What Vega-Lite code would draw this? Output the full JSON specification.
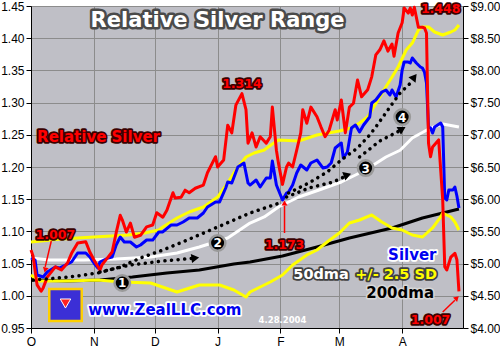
{
  "$schema": "https://vega.github.io/schema/vega-lite/v6.json",
  "width": 432,
  "height": 322,
  "autosize": {"type": "none"},
  "padding": {"left": 31, "top": 6, "right": 37, "bottom": 22},
  "background": "#ffffff",
  "config": {
    "view": {"fill": "#bfbfc6", "stroke": null},
    "axis": {"labelFont": "Liberation Sans", "labelFontSize": 12, "labelColor": "#000000", "domainColor": "#000000", "tickColor": "#000000", "tickSize": 5, "gridColor": "#8c8c8c", "gridWidth": 1, "domainWidth": 1, "labelOverlap": false}
  },
  "datasets": {
    "red": [
      {"date":"2003/10/01","rel":1.071},{"date":"2003/10/02","rel":1.062},{"date":"2003/10/04","rel":1.017},{"date":"2003/10/06","rel":1.007},{"date":"2003/10/07","rel":1.012},{"date":"2003/10/09","rel":1.029},{"date":"2003/10/13","rel":1.045},{"date":"2003/10/16","rel":1.040},{"date":"2003/10/19","rel":1.051},{"date":"2003/10/21","rel":1.066},{"date":"2003/10/24","rel":1.082},{"date":"2003/10/28","rel":1.084},{"date":"2003/10/30","rel":1.068},
      {"date":"2003/11/01","rel":1.056},{"date":"2003/11/04","rel":1.040},{"date":"2003/11/05","rel":1.048},{"date":"2003/11/08","rel":1.060},{"date":"2003/11/10","rel":1.068},{"date":"2003/11/12","rel":1.098},{"date":"2003/11/14","rel":1.125},{"date":"2003/11/15","rel":1.118},{"date":"2003/11/17","rel":1.099},{"date":"2003/11/19","rel":1.113},{"date":"2003/11/21","rel":1.091},{"date":"2003/11/24","rel":1.094},{"date":"2003/11/27","rel":1.107},{"date":"2003/11/30","rel":1.110},
      {"date":"2003/12/02","rel":1.129},{"date":"2003/12/05","rel":1.122},{"date":"2003/12/07","rel":1.133},{"date":"2003/12/10","rel":1.160},{"date":"2003/12/11","rel":1.152},{"date":"2003/12/14","rel":1.153},{"date":"2003/12/16","rel":1.164},{"date":"2003/12/18","rel":1.160},{"date":"2003/12/21","rel":1.167},{"date":"2003/12/25","rel":1.172},{"date":"2003/12/27","rel":1.191},{"date":"2003/12/31","rel":1.216},
      {"date":"2004/01/01","rel":1.200},{"date":"2004/01/04","rel":1.211},{"date":"2004/01/06","rel":1.265},{"date":"2004/01/08","rel":1.253},{"date":"2004/01/10","rel":1.296},{"date":"2004/01/13","rel":1.314},{"date":"2004/01/15","rel":1.289},{"date":"2004/01/16","rel":1.237},{"date":"2004/01/18","rel":1.253},{"date":"2004/01/20","rel":1.231},{"date":"2004/01/22","rel":1.247},{"date":"2004/01/25","rel":1.237},{"date":"2004/01/27","rel":1.247},{"date":"2004/01/28","rel":1.293},{"date":"2004/01/30","rel":1.226},{"date":"2004/01/31","rel":1.206},
      {"date":"2004/02/02","rel":1.173},{"date":"2004/02/04","rel":1.200},{"date":"2004/02/05","rel":1.206},{"date":"2004/02/07","rel":1.200},{"date":"2004/02/09","rel":1.226},{"date":"2004/02/11","rel":1.253},{"date":"2004/02/12","rel":1.289},{"date":"2004/02/14","rel":1.268},{"date":"2004/02/16","rel":1.293},{"date":"2004/02/19","rel":1.278},{"date":"2004/02/21","rel":1.262},{"date":"2004/02/23","rel":1.247},{"date":"2004/02/25","rel":1.257},{"date":"2004/02/28","rel":1.289},{"date":"2004/02/29","rel":1.273},
      {"date":"2004/03/02","rel":1.304},{"date":"2004/03/04","rel":1.253},{"date":"2004/03/06","rel":1.293},{"date":"2004/03/08","rel":1.299},{"date":"2004/03/10","rel":1.335},{"date":"2004/03/12","rel":1.309},{"date":"2004/03/15","rel":1.320},{"date":"2004/03/17","rel":1.340},{"date":"2004/03/19","rel":1.374},{"date":"2004/03/21","rel":1.382},{"date":"2004/03/23","rel":1.396},{"date":"2004/03/25","rel":1.380},{"date":"2004/03/27","rel":1.391},{"date":"2004/03/28","rel":1.372},{"date":"2004/03/30","rel":1.408},
      {"date":"2004/04/01","rel":1.424},{"date":"2004/04/02","rel":1.447},{"date":"2004/04/04","rel":1.439},{"date":"2004/04/05","rel":1.447},{"date":"2004/04/06","rel":1.436},{"date":"2004/04/07","rel":1.448},{"date":"2004/04/09","rel":1.417},{"date":"2004/04/11","rel":1.417},{"date":"2004/04/12","rel":1.416},{"date":"2004/04/13","rel":1.408},{"date":"2004/04/14","rel":1.237},{"date":"2004/04/15","rel":1.216},{"date":"2004/04/16","rel":1.231},{"date":"2004/04/19","rel":1.242},{"date":"2004/04/21","rel":1.149},{"date":"2004/04/22","rel":1.045},{"date":"2004/04/23","rel":1.040},{"date":"2004/04/25","rel":1.060},{"date":"2004/04/27","rel":1.066},{"date":"2004/04/28","rel":1.056},{"date":"2004/04/29","rel":1.007}
    ],
    "silver": [
      {"date":"2003/10/01","price":5.087},{"date":"2003/10/03","price":5.056},{"date":"2003/10/04","price":4.823},{"date":"2003/10/07","price":4.792},{"date":"2003/10/09","price":4.870},{"date":"2003/10/13","price":4.947},{"date":"2003/10/15","price":4.932},{"date":"2003/10/18","price":4.978},{"date":"2003/10/21","price":5.025},{"date":"2003/10/24","price":5.165},{"date":"2003/10/28","price":5.165},{"date":"2003/10/30","price":5.102},
      {"date":"2003/11/01","price":5.009},{"date":"2003/11/03","price":4.932},{"date":"2003/11/04","price":5.025},{"date":"2003/11/08","price":5.087},{"date":"2003/11/10","price":5.102},{"date":"2003/11/12","price":5.289},{"date":"2003/11/14","price":5.413},{"date":"2003/11/16","price":5.335},{"date":"2003/11/19","price":5.335},{"date":"2003/11/22","price":5.258},{"date":"2003/11/24","price":5.289},{"date":"2003/11/27","price":5.366},{"date":"2003/11/30","price":5.366},
      {"date":"2003/12/03","price":5.491},{"date":"2003/12/05","price":5.491},{"date":"2003/12/09","price":5.599},{"date":"2003/12/12","price":5.599},{"date":"2003/12/15","price":5.646},{"date":"2003/12/18","price":5.708},{"date":"2003/12/22","price":5.708},{"date":"2003/12/25","price":5.786},{"date":"2003/12/27","price":5.879},{"date":"2003/12/31","price":5.957},
      {"date":"2004/01/02","price":5.957},{"date":"2004/01/05","price":6.174},{"date":"2004/01/06","price":6.267},{"date":"2004/01/08","price":6.252},{"date":"2004/01/11","price":6.500},{"date":"2004/01/14","price":6.562},{"date":"2004/01/16","price":6.252},{"date":"2004/01/17","price":6.220},{"date":"2004/01/20","price":6.298},{"date":"2004/01/22","price":6.189},{"date":"2004/01/25","price":6.329},{"date":"2004/01/27","price":6.330},{"date":"2004/01/28","price":6.593},{"date":"2004/01/30","price":6.220},{"date":"2004/01/31","price":6.143},
      {"date":"2004/02/02","price":5.988},{"date":"2004/02/04","price":6.096},{"date":"2004/02/05","price":6.112},{"date":"2004/02/07","price":6.220},{"date":"2004/02/09","price":6.407},{"date":"2004/02/11","price":6.531},{"date":"2004/02/14","price":6.453},{"date":"2004/02/16","price":6.562},{"date":"2004/02/19","price":6.609},{"date":"2004/02/22","price":6.484},{"date":"2004/02/24","price":6.500},{"date":"2004/02/26","price":6.562},{"date":"2004/02/28","price":6.795},
      {"date":"2004/03/02","price":6.873},{"date":"2004/03/03","price":6.640},{"date":"2004/03/05","price":6.733},{"date":"2004/03/07","price":7.106},{"date":"2004/03/09","price":7.152},{"date":"2004/03/11","price":7.043},{"date":"2004/03/13","price":7.152},{"date":"2004/03/16","price":7.276},{"date":"2004/03/17","price":7.494},{"date":"2004/03/19","price":7.540},{"date":"2004/03/22","price":7.665},{"date":"2004/03/24","price":7.696},{"date":"2004/03/26","price":7.618},{"date":"2004/03/27","price":7.696},{"date":"2004/03/29","price":7.587},{"date":"2004/03/31","price":7.773},
      {"date":"2004/04/01","price":8.006},{"date":"2004/04/02","price":8.130},{"date":"2004/04/04","price":8.130},{"date":"2004/04/05","price":8.115},{"date":"2004/04/06","price":8.193},{"date":"2004/04/08","price":8.115},{"date":"2004/04/10","price":8.053},{"date":"2004/04/11","price":8.037},{"date":"2004/04/12","price":7.975},{"date":"2004/04/13","price":7.804},{"date":"2004/04/14","price":7.121},{"date":"2004/04/15","price":7.106},{"date":"2004/04/16","price":7.028},{"date":"2004/04/17","price":7.121},{"date":"2004/04/20","price":7.183},{"date":"2004/04/21","price":7.121},{"date":"2004/04/22","price":6.019},{"date":"2004/04/23","price":5.988},{"date":"2004/04/24","price":6.143},{"date":"2004/04/26","price":6.143},{"date":"2004/04/27","price":6.189},{"date":"2004/04/28","price":6.050},{"date":"2004/04/29","price":5.863}
    ],
    "upper": [
      {"date":"2003/10/01","price":5.335},{"date":"2003/10/16","price":5.382},{"date":"2003/11/01","price":5.413},{"date":"2003/11/18","price":5.444},{"date":"2003/11/26","price":5.475},{"date":"2003/12/03","price":5.522},{"date":"2003/12/05","price":5.568},{"date":"2003/12/12","price":5.708},{"date":"2003/12/18","price":5.801},{"date":"2003/12/25","price":5.879},
      {"date":"2004/01/01","price":6.034},{"date":"2004/01/06","price":6.252},{"date":"2004/01/09","price":6.407},{"date":"2004/01/12","price":6.531},{"date":"2004/01/15","price":6.655},{"date":"2004/01/19","price":6.717},{"date":"2004/01/24","price":6.764},{"date":"2004/01/28","price":6.857},{"date":"2004/01/31","price":6.919},{"date":"2004/02/10","price":6.904},{"date":"2004/02/19","price":6.997},
      {"date":"2004/03/01","price":7.059},{"date":"2004/03/07","price":7.106},{"date":"2004/03/11","price":7.183},{"date":"2004/03/15","price":7.276},{"date":"2004/03/18","price":7.432},{"date":"2004/03/23","price":7.696},{"date":"2004/03/27","price":7.898},{"date":"2004/03/30","price":8.053},
      {"date":"2004/04/03","price":8.317},{"date":"2004/04/06","price":8.425},{"date":"2004/04/09","price":8.627},{"date":"2004/04/11","price":8.674},{"date":"2004/04/14","price":8.674},{"date":"2004/04/17","price":8.596},{"date":"2004/04/21","price":8.550},{"date":"2004/04/25","price":8.596},{"date":"2004/04/27","price":8.627},{"date":"2004/04/29","price":8.705}
    ],
    "lower": [
      {"date":"2003/10/01","price":4.823},{"date":"2003/10/05","price":4.730},{"date":"2003/10/19","price":4.730},{"date":"2003/11/03","price":4.745},{"date":"2003/11/15","price":4.714},{"date":"2003/11/29","price":4.699},{"date":"2003/12/12","price":4.559},{"date":"2003/12/23","price":4.668},
      {"date":"2004/01/02","price":4.668},{"date":"2004/01/09","price":4.590},{"date":"2004/01/15","price":4.481},{"date":"2004/01/17","price":4.559},{"date":"2004/01/27","price":4.714},{"date":"2004/02/02","price":4.823},{"date":"2004/02/07","price":4.978},{"date":"2004/02/14","price":5.134},{"date":"2004/02/19","price":5.211},{"date":"2004/02/24","price":5.335},
      {"date":"2004/03/01","price":5.475},{"date":"2004/03/06","price":5.630},{"date":"2004/03/11","price":5.677},{"date":"2004/03/17","price":5.755},{"date":"2004/03/22","price":5.646},{"date":"2004/03/27","price":5.553},
      {"date":"2004/04/01","price":5.522},{"date":"2004/04/06","price":5.444},{"date":"2004/04/11","price":5.413},{"date":"2004/04/16","price":5.553},{"date":"2004/04/20","price":5.724},{"date":"2004/04/21","price":5.786},{"date":"2004/04/25","price":5.724},{"date":"2004/04/27","price":5.646},{"date":"2004/04/29","price":5.522}
    ],
    "dma50": [
      {"date":"2003/10/01","price":5.087},{"date":"2003/10/10","price":5.056},{"date":"2003/10/27","price":5.056},{"date":"2003/11/12","price":5.071},{"date":"2003/11/29","price":5.102},{"date":"2003/12/12","price":5.165},{"date":"2003/12/23","price":5.258},
      {"date":"2004/01/06","price":5.398},{"date":"2004/01/17","price":5.630},{"date":"2004/01/24","price":5.724},{"date":"2004/01/31","price":5.879},{"date":"2004/02/10","price":6.034},{"date":"2004/02/20","price":6.143},
      {"date":"2004/03/02","price":6.267},{"date":"2004/03/14","price":6.453},{"date":"2004/03/24","price":6.655},{"date":"2004/03/31","price":6.760},{"date":"2004/04/06","price":6.950},{"date":"2004/04/15","price":7.106},{"date":"2004/04/21","price":7.168},{"date":"2004/04/29","price":7.121}
    ],
    "dma200": [
      {"date":"2003/10/01","price":4.745},{"date":"2003/10/19","price":4.730},{"date":"2003/11/04","price":4.745},{"date":"2003/11/20","price":4.792},{"date":"2003/12/07","price":4.854},{"date":"2003/12/23","price":4.901},
      {"date":"2004/01/09","price":4.994},{"date":"2004/01/17","price":5.025},{"date":"2004/02/02","price":5.118},{"date":"2004/02/19","price":5.258},{"date":"2004/03/06","price":5.398},{"date":"2004/03/27","price":5.553},{"date":"2004/04/11","price":5.708},{"date":"2004/04/21","price":5.786},{"date":"2004/04/29","price":5.848}
    ],
    "dots": [
      {"id":"A","date":"2003/10/02","rel":1.0245},{"id":"A","date":"2003/10/20","rel":1.0292},{"id":"A","date":"2003/11/03","rel":1.0354},{"id":"A","date":"2003/11/14","rel":1.0447},{"id":"A","date":"2003/11/24","rel":1.0587},{"id":"A","date":"2003/12/05","rel":1.0711},{"id":"A","date":"2003/12/17","rel":1.0866},{"id":"A","date":"2004/01/01","rel":1.1068},{"id":"A","date":"2004/01/17","rel":1.1286},{"id":"A","date":"2004/02/02","rel":1.1457},
      {"id":"B","date":"2003/11/04","rel":1.037},{"id":"B","date":"2003/11/19","rel":1.0478},{"id":"B","date":"2003/12/05","rel":1.054},{"id":"B","date":"2003/12/19","rel":1.058},
      {"id":"C","date":"2004/02/04","rel":1.1534},{"id":"C","date":"2004/02/15","rel":1.1674},{"id":"C","date":"2004/02/27","rel":1.1767},{"id":"C","date":"2004/03/03","rel":1.184},
      {"id":"D","date":"2004/02/05","rel":1.1596},{"id":"D","date":"2004/02/15","rel":1.1752},{"id":"D","date":"2004/02/24","rel":1.1922},{"id":"D","date":"2004/03/02","rel":1.2109},{"id":"D","date":"2004/03/10","rel":1.2295},{"id":"D","date":"2004/03/16","rel":1.2497},{"id":"D","date":"2004/03/19","rel":1.2621},{"id":"D","date":"2004/03/26","rel":1.2932},{"id":"D","date":"2004/03/31","rel":1.3149},{"id":"D","date":"2004/04/05","rel":1.330},
      {"id":"E","date":"2004/03/11","rel":1.2155},{"id":"E","date":"2004/03/21","rel":1.2404},{"id":"E","date":"2004/03/30","rel":1.255}
    ],
    "heads": [
      {"id":"B","date":"2003/12/21","rel":1.0587},
      {"id":"C","date":"2004/03/05","rel":1.1876},
      {"id":"D","date":"2004/04/07","rel":1.3398},
      {"id":"E","date":"2004/04/01","rel":1.259},
      {"id":"L","date":"2003/10/08","rel":1.0401},
      {"id":"M","date":"2004/02/03","rel":1.1441},
      {"id":"R","date":"2004/04/28","rel":0.9966}
    ],
    "arrows": [
      {"id":"L","date":"2003/10/11","rel":1.0851},{"id":"L","date":"2003/10/08","rel":1.045},
      {"id":"M","date":"2004/02/03","rel":1.0975},{"id":"M","date":"2004/02/03","rel":1.140},
      {"id":"R","date":"2004/04/21","rel":0.9748},{"id":"R","date":"2004/04/27","rel":0.993}
    ],
    "circles": [
      {"n":"1","date":"2003/11/15","rel":1.0199},
      {"n":"2","date":"2004/01/01","rel":1.082},
      {"n":"3","date":"2004/03/14","rel":1.1984},
      {"n":"4","date":"2004/04/01","rel":1.2776}
    ],
    "logo": [
      {"date":"2003/10/10","date2":"2003/10/26","rel":1.0106,"rel2":0.9609}
    ],
    "shell": [
      {"date":"2003/10/18","rel":0.988}
    ],
    "labels": [
      {"kind":"title","date":"2004/01/01","rel":1.4174,"text":"Relative Silver Range"},
      {"kind":"redbig","date":"2003/10/04","rel":1.2388,"text":"Relative Silver"},
      {"kind":"rednum","date":"2004/01/13","rel":1.3227,"text":"1.314"},
      {"kind":"rednum","date":"2004/04/20","rel":1.4391,"text":"1.448"},
      {"kind":"rednum","date":"2003/10/13","rel":1.0882,"text":"1.007"},
      {"kind":"rednum","date":"2004/02/03","rel":1.0727,"text":"1.173"},
      {"kind":"rednum","date":"2004/04/15","rel":0.9562,"text":"1.007"},
      {"kind":"silver","date":"2004/04/06","rel":1.0556,"text":"Silver"},
      {"kind":"dma50","date":"2004/02/21","rel":1.0261,"text":"50dma"},
      {"kind":"sd","date":"2004/03/29","rel":1.0261,"text":"+/- 2.5 SD"},
      {"kind":"dma200","date":"2004/03/31","rel":0.9966,"text":"200dma"},
      {"kind":"stamp","date":"2004/02/02","rel":0.9578,"text":"4.28.2004"},
      {"kind":"url","date":"2003/12/06","rel":0.9702,"text":"www.ZealLLC.com"}
    ]
  },
  "layer": [
    {
      "layer": [
        {
          "mark": {"type": "rule", "color": "#a4a4a8", "strokeWidth": 3},
          "encoding": {"y": {"datum": 4.5, "type": "quantitative", "scale": {"domain": [4, 9]}, "title": null}}
        },
        {
          "data": {"name": "dma200"},
          "mark": {"type": "line", "color": "#000000", "strokeWidth": 3, "strokeJoin": "round"},
          "encoding": {
            "x": {"field": "date", "type": "temporal", "title": null, "scale": {"domain": [{"year": 2003, "month": 10, "date": 1}, {"year": 2004, "month": 5, "date": 1}], "nice": false},
              "axis": {"values": [{"year": 2003, "month": 10, "date": 1}, {"year": 2003, "month": 11, "date": 1}, {"year": 2003, "month": 12, "date": 1}, {"year": 2004, "month": 1, "date": 1}, {"year": 2004, "month": 2, "date": 1}, {"year": 2004, "month": 3, "date": 1}, {"year": 2004, "month": 4, "date": 1}],
                "tickCount": 20, "labelExpr": "substring(timeFormat(datum.value, '%b'), 0, 1)", "grid": true, "labelFlush": false, "labelOverlap": false, "labelPadding": 3, "title": null}},
            "y": {"field": "price", "type": "quantitative", "title": null, "scale": {"domain": [4, 9]},
              "axis": {"orient": "right", "values": [4, 4.5, 5, 5.5, 6, 6.5, 7, 7.5, 8, 8.5, 9], "tickCount": 20, "format": "$.2f", "grid": false, "labelOverlap": false, "labelPadding": 2, "title": null}}
          }
        },
        {
          "data": {"name": "dma50"},
          "mark": {"type": "line", "color": "#ffffff", "strokeWidth": 3, "strokeJoin": "round"},
          "encoding": {"x": {"field": "date", "type": "temporal", "title": null}, "y": {"field": "price", "type": "quantitative", "title": null, "scale": {"domain": [4, 9]}}}
        },
        {
          "data": {"name": "lower"},
          "mark": {"type": "line", "color": "#ffff00", "strokeWidth": 3, "strokeJoin": "round"},
          "encoding": {"x": {"field": "date", "type": "temporal", "title": null}, "y": {"field": "price", "type": "quantitative", "title": null, "scale": {"domain": [4, 9]}}}
        },
        {
          "data": {"name": "upper"},
          "mark": {"type": "line", "color": "#ffff00", "strokeWidth": 3, "strokeJoin": "round"},
          "encoding": {"x": {"field": "date", "type": "temporal", "title": null}, "y": {"field": "price", "type": "quantitative", "title": null, "scale": {"domain": [4, 9]}}}
        },
        {
          "data": {"name": "silver"},
          "mark": {"type": "line", "color": "#0000ff", "strokeWidth": 3, "strokeJoin": "round"},
          "encoding": {"x": {"field": "date", "type": "temporal", "title": null}, "y": {"field": "price", "type": "quantitative", "title": null, "scale": {"domain": [4, 9]}}}
        }
      ]
    },
    {
      "layer": [
        {
          "data": {"name": "red"},
          "mark": {"type": "line", "color": "#ff0000", "strokeWidth": 3, "strokeJoin": "round"},
          "encoding": {
            "x": {"field": "date", "type": "temporal", "title": null},
            "y": {"field": "rel", "type": "quantitative", "title": null, "scale": {"domain": [0.95, 1.45]},
              "axis": {"orient": "left", "values": [0.95, 1.0, 1.05, 1.1, 1.15, 1.2, 1.25, 1.3, 1.35, 1.4, 1.45], "tickCount": 20, "format": ".2f", "grid": true, "labelOverlap": false, "labelPadding": 2, "title": null}}
          }
        },
        {
          "data": {"name": "dots"},
          "mark": {"type": "line", "color": "#000000", "strokeWidth": 3.5, "strokeCap": "round", "strokeDash": [0.1, 6.5]},
          "encoding": {"x": {"field": "date", "type": "temporal", "title": null}, "y": {"field": "rel", "type": "quantitative", "title": null, "scale": {"domain": [0.95, 1.45]}}, "detail": {"field": "id"}}
        },
        {
          "data": {"name": "heads"},
          "transform": [{"filter": "datum.id == 'B'"}],
          "mark": {"type": "point", "shape": "triangle-right", "filled": true, "color": "#000000", "opacity": 1, "size": 80, "angle": -8},
          "encoding": {"x": {"field": "date", "type": "temporal", "title": null}, "y": {"field": "rel", "type": "quantitative", "title": null, "scale": {"domain": [0.95, 1.45]}}}
        },
        {
          "data": {"name": "heads"},
          "transform": [{"filter": "datum.id == 'C'"}],
          "mark": {"type": "point", "shape": "triangle-right", "filled": true, "color": "#000000", "opacity": 1, "size": 80, "angle": -20},
          "encoding": {"x": {"field": "date", "type": "temporal", "title": null}, "y": {"field": "rel", "type": "quantitative", "title": null, "scale": {"domain": [0.95, 1.45]}}}
        },
        {
          "data": {"name": "heads"},
          "transform": [{"filter": "datum.id == 'D'"}],
          "mark": {"type": "point", "shape": "triangle-right", "filled": true, "color": "#000000", "opacity": 1, "size": 80, "angle": -53},
          "encoding": {"x": {"field": "date", "type": "temporal", "title": null}, "y": {"field": "rel", "type": "quantitative", "title": null, "scale": {"domain": [0.95, 1.45]}}}
        },
        {
          "data": {"name": "heads"},
          "transform": [{"filter": "datum.id == 'E'"}],
          "mark": {"type": "point", "shape": "triangle-right", "filled": true, "color": "#000000", "opacity": 1, "size": 80, "angle": -30},
          "encoding": {"x": {"field": "date", "type": "temporal", "title": null}, "y": {"field": "rel", "type": "quantitative", "title": null, "scale": {"domain": [0.95, 1.45]}}}
        },
        {
          "data": {"name": "circles"},
          "mark": {"type": "point", "shape": "circle", "filled": true, "color": "#000000", "opacity": 1, "size": 240, "stroke": "#9a9a9a", "strokeWidth": 2.5},
          "encoding": {"x": {"field": "date", "type": "temporal", "title": null}, "y": {"field": "rel", "type": "quantitative", "title": null, "scale": {"domain": [0.95, 1.45]}}}
        },
        {
          "data": {"name": "circles"},
          "mark": {"type": "text", "color": "#ffffff", "font": "DejaVu Sans", "fontWeight": "bold", "fontSize": 12, "align": "center", "baseline": "middle", "dy": 0.5},
          "encoding": {"x": {"field": "date", "type": "temporal", "title": null}, "y": {"field": "rel", "type": "quantitative", "title": null, "scale": {"domain": [0.95, 1.45]}}, "text": {"field": "n"}}
        },
        {
          "data": {"name": "arrows"},
          "mark": {"type": "line", "color": "#ff0000", "strokeWidth": 1.5},
          "encoding": {"x": {"field": "date", "type": "temporal", "title": null}, "y": {"field": "rel", "type": "quantitative", "title": null, "scale": {"domain": [0.95, 1.45]}}, "detail": {"field": "id"}}
        },
        {
          "data": {"name": "heads"},
          "transform": [{"filter": "datum.id == 'L'"}],
          "mark": {"type": "point", "shape": "triangle-right", "filled": true, "color": "#ff0000", "opacity": 1, "size": 35, "angle": 104},
          "encoding": {"x": {"field": "date", "type": "temporal", "title": null}, "y": {"field": "rel", "type": "quantitative", "title": null, "scale": {"domain": [0.95, 1.45]}}}
        },
        {
          "data": {"name": "heads"},
          "transform": [{"filter": "datum.id == 'M'"}],
          "mark": {"type": "point", "shape": "triangle-right", "filled": true, "color": "#ff0000", "opacity": 1, "size": 35, "angle": -90},
          "encoding": {"x": {"field": "date", "type": "temporal", "title": null}, "y": {"field": "rel", "type": "quantitative", "title": null, "scale": {"domain": [0.95, 1.45]}}}
        },
        {
          "data": {"name": "heads"},
          "transform": [{"filter": "datum.id == 'R'"}],
          "mark": {"type": "point", "shape": "triangle-right", "filled": true, "color": "#ff0000", "opacity": 1, "size": 35, "angle": -43},
          "encoding": {"x": {"field": "date", "type": "temporal", "title": null}, "y": {"field": "rel", "type": "quantitative", "title": null, "scale": {"domain": [0.95, 1.45]}}}
        },
        {
          "data": {"name": "logo"},
          "mark": {"type": "rect", "fill": "#3b2fd6", "stroke": "#ffd000", "strokeWidth": 2.5},
          "encoding": {"x": {"field": "date", "type": "temporal", "title": null}, "x2": {"field": "date2"}, "y": {"field": "rel", "type": "quantitative", "title": null, "scale": {"domain": [0.95, 1.45]}}, "y2": {"field": "rel2"}}
        },
        {
          "data": {"name": "shell"},
          "mark": {"type": "point", "shape": "triangle-down", "filled": true, "color": "#ff2020", "opacity": 1, "size": 110, "stroke": "#ffffff", "strokeWidth": 1},
          "encoding": {"x": {"field": "date", "type": "temporal", "title": null}, "y": {"field": "rel", "type": "quantitative", "title": null, "scale": {"domain": [0.95, 1.45]}}}
        },
        {
          "data": {"name": "labels"},
          "transform": [{"filter": "datum.kind == 'title'"}],
          "mark": {"type": "text", "font": "DejaVu Sans", "fontWeight": "bold", "fontSize": 21, "align": "center", "baseline": "alphabetic", "fill": "#4a4a4a", "stroke": "#4a4a4a", "strokeWidth": 5, "strokeJoin": "round"},
          "encoding": {"x": {"field": "date", "type": "temporal", "title": null}, "y": {"field": "rel", "type": "quantitative", "title": null, "scale": {"domain": [0.95, 1.45]}}, "text": {"field": "text"}}
        },
        {
          "data": {"name": "labels"},
          "transform": [{"filter": "datum.kind == 'title'"}],
          "mark": {"type": "text", "font": "DejaVu Sans", "fontWeight": "bold", "fontSize": 21, "align": "center", "baseline": "alphabetic", "fill": "#ffffff"},
          "encoding": {"x": {"field": "date", "type": "temporal", "title": null}, "y": {"field": "rel", "type": "quantitative", "title": null, "scale": {"domain": [0.95, 1.45]}}, "text": {"field": "text"}}
        },
        {
          "data": {"name": "labels"},
          "transform": [{"filter": "datum.kind == 'redbig'"}],
          "mark": {"type": "text", "font": "DejaVu Sans", "fontWeight": "bold", "fontSize": 15, "align": "left", "baseline": "alphabetic", "fill": "#3a0000", "stroke": "#3a0000", "strokeWidth": 3.5, "strokeJoin": "round"},
          "encoding": {"x": {"field": "date", "type": "temporal", "title": null}, "y": {"field": "rel", "type": "quantitative", "title": null, "scale": {"domain": [0.95, 1.45]}}, "text": {"field": "text"}}
        },
        {
          "data": {"name": "labels"},
          "transform": [{"filter": "datum.kind == 'redbig'"}],
          "mark": {"type": "text", "font": "DejaVu Sans", "fontWeight": "bold", "fontSize": 15, "align": "left", "baseline": "alphabetic", "fill": "#ff0000"},
          "encoding": {"x": {"field": "date", "type": "temporal", "title": null}, "y": {"field": "rel", "type": "quantitative", "title": null, "scale": {"domain": [0.95, 1.45]}}, "text": {"field": "text"}}
        },
        {
          "data": {"name": "labels"},
          "transform": [{"filter": "datum.kind == 'rednum'"}],
          "mark": {"type": "text", "font": "DejaVu Sans", "fontWeight": "bold", "fontSize": 12.5, "align": "center", "baseline": "alphabetic", "fill": "#3a0000", "stroke": "#3a0000", "strokeWidth": 3.5, "strokeJoin": "round"},
          "encoding": {"x": {"field": "date", "type": "temporal", "title": null}, "y": {"field": "rel", "type": "quantitative", "title": null, "scale": {"domain": [0.95, 1.45]}}, "text": {"field": "text"}}
        },
        {
          "data": {"name": "labels"},
          "transform": [{"filter": "datum.kind == 'rednum'"}],
          "mark": {"type": "text", "font": "DejaVu Sans", "fontWeight": "bold", "fontSize": 12.5, "align": "center", "baseline": "alphabetic", "fill": "#ff0000"},
          "encoding": {"x": {"field": "date", "type": "temporal", "title": null}, "y": {"field": "rel", "type": "quantitative", "title": null, "scale": {"domain": [0.95, 1.45]}}, "text": {"field": "text"}}
        },
        {
          "data": {"name": "labels"},
          "transform": [{"filter": "datum.kind == 'silver' || datum.kind == 'url'"}],
          "mark": {"type": "text", "font": "DejaVu Sans", "fontWeight": "bold", "fontSize": 15, "align": "center", "baseline": "alphabetic", "fill": "#ffffff", "stroke": "#ffffff", "strokeWidth": 3.5, "strokeJoin": "round"},
          "encoding": {"x": {"field": "date", "type": "temporal", "title": null}, "y": {"field": "rel", "type": "quantitative", "title": null, "scale": {"domain": [0.95, 1.45]}}, "text": {"field": "text"}}
        },
        {
          "data": {"name": "labels"},
          "transform": [{"filter": "datum.kind == 'silver' || datum.kind == 'url'"}],
          "mark": {"type": "text", "font": "DejaVu Sans", "fontWeight": "bold", "fontSize": 15, "align": "center", "baseline": "alphabetic", "fill": "#0000f0"},
          "encoding": {"x": {"field": "date", "type": "temporal", "title": null}, "y": {"field": "rel", "type": "quantitative", "title": null, "scale": {"domain": [0.95, 1.45]}}, "text": {"field": "text"}}
        },
        {
          "data": {"name": "labels"},
          "transform": [{"filter": "datum.kind == 'dma50' || datum.kind == 'sd'"}],
          "mark": {"type": "text", "font": "DejaVu Sans", "fontWeight": "bold", "fontSize": 14.5, "align": "center", "baseline": "alphabetic", "fill": "#404040", "stroke": "#404040", "strokeWidth": 3.5, "strokeJoin": "round"},
          "encoding": {"x": {"field": "date", "type": "temporal", "title": null}, "y": {"field": "rel", "type": "quantitative", "title": null, "scale": {"domain": [0.95, 1.45]}}, "text": {"field": "text"}}
        },
        {
          "data": {"name": "labels"},
          "transform": [{"filter": "datum.kind == 'dma50'"}],
          "mark": {"type": "text", "font": "DejaVu Sans", "fontWeight": "bold", "fontSize": 14.5, "align": "center", "baseline": "alphabetic", "fill": "#ffffff"},
          "encoding": {"x": {"field": "date", "type": "temporal", "title": null}, "y": {"field": "rel", "type": "quantitative", "title": null, "scale": {"domain": [0.95, 1.45]}}, "text": {"field": "text"}}
        },
        {
          "data": {"name": "labels"},
          "transform": [{"filter": "datum.kind == 'sd'"}],
          "mark": {"type": "text", "font": "DejaVu Sans", "fontWeight": "bold", "fontSize": 14.5, "align": "center", "baseline": "alphabetic", "fill": "#ffff00"},
          "encoding": {"x": {"field": "date", "type": "temporal", "title": null}, "y": {"field": "rel", "type": "quantitative", "title": null, "scale": {"domain": [0.95, 1.45]}}, "text": {"field": "text"}}
        },
        {
          "data": {"name": "labels"},
          "transform": [{"filter": "datum.kind == 'dma200'"}],
          "mark": {"type": "text", "font": "DejaVu Sans", "fontWeight": "bold", "fontSize": 15, "align": "center", "baseline": "alphabetic", "fill": "#d8d8d8", "stroke": "#d8d8d8", "strokeWidth": 3, "strokeJoin": "round"},
          "encoding": {"x": {"field": "date", "type": "temporal", "title": null}, "y": {"field": "rel", "type": "quantitative", "title": null, "scale": {"domain": [0.95, 1.45]}}, "text": {"field": "text"}}
        },
        {
          "data": {"name": "labels"},
          "transform": [{"filter": "datum.kind == 'dma200'"}],
          "mark": {"type": "text", "font": "DejaVu Sans", "fontWeight": "bold", "fontSize": 15, "align": "center", "baseline": "alphabetic", "fill": "#000000"},
          "encoding": {"x": {"field": "date", "type": "temporal", "title": null}, "y": {"field": "rel", "type": "quantitative", "title": null, "scale": {"domain": [0.95, 1.45]}}, "text": {"field": "text"}}
        },
        {
          "data": {"name": "labels"},
          "transform": [{"filter": "datum.kind == 'stamp'"}],
          "mark": {"type": "text", "font": "DejaVu Sans", "fontWeight": "bold", "fontSize": 8.5, "align": "center", "baseline": "alphabetic", "fill": "#ffffff"},
          "encoding": {"x": {"field": "date", "type": "temporal", "title": null}, "y": {"field": "rel", "type": "quantitative", "title": null, "scale": {"domain": [0.95, 1.45]}}, "text": {"field": "text"}}
        }
      ]
    }
  ],
  "resolve": {"scale": {"y": "independent"}}
}
